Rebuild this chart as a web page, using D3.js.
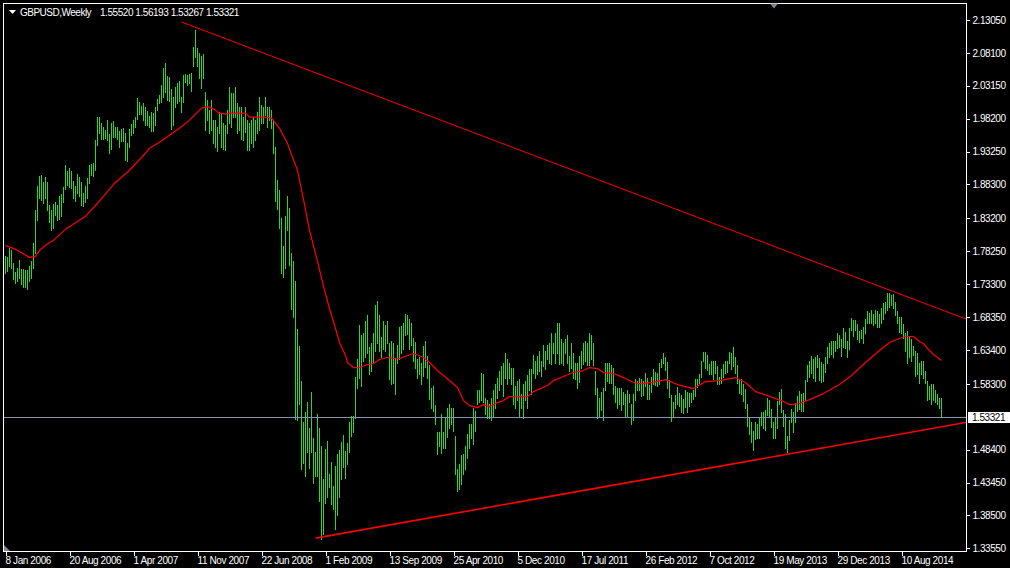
<!DOCTYPE html>
<html><head><meta charset="utf-8">
<script src="https://cdn.jsdelivr.net/npm/d3@7"></script>
<style>
html,body{margin:0;padding:0;background:#000;overflow:hidden;}
svg{display:block;}
text{font-family:"Liberation Sans",Arial,sans-serif;}
</style></head><body>
<svg id="c" width="1010" height="568"></svg>
<script>
// ---------- DATA ----------
const symbolLabel = "GBPUSD,Weekly";
const lastOHLC = ["1.55520", "1.56193", "1.53267", "1.53321"];
const lastPrice = 1.53321;

// weekly highs / lows, week 0 = 8 Jan 2006
const hi2006 = [1.7760,1.7740,1.7880,1.7840,1.7650,1.7520,1.7580,1.7700,1.7560,1.7560,1.7540,1.7550,1.7600,1.7680,1.7950,1.8450,1.8800,1.8950,1.8980,1.8870,1.8940,1.8860,1.8520,1.8450,1.8540,1.8560,1.8520,1.8660,1.8690,1.8790,1.9130,1.9040,1.9080,1.9040,1.8880,1.8800,1.8990,1.8940,1.8860,1.8700,1.8800,1.8920,1.9120,1.9140,1.9160,1.9500,1.9850,1.9840,1.9760,1.9690,1.9650,1.9800];
const lo2006 = [1.7500,1.7530,1.7600,1.7580,1.7400,1.7340,1.7380,1.7420,1.7330,1.7290,1.7290,1.7260,1.7380,1.7420,1.7580,1.7800,1.8300,1.8620,1.8600,1.8550,1.8620,1.8440,1.8260,1.8150,1.8170,1.8370,1.8290,1.8310,1.8360,1.8560,1.8760,1.8820,1.8790,1.8780,1.8620,1.8580,1.8700,1.8660,1.8520,1.8500,1.8560,1.8630,1.8850,1.8980,1.8960,1.9050,1.9420,1.9600,1.9520,1.9520,1.9530,1.9500];
const hi2007 = [1.9590,1.9760,1.9790,1.9700,1.9690,1.9640,1.9660,1.9680,1.9600,1.9460,1.9660,1.9740,1.9800,1.9850,2.0130,2.0070,2.0010,2.0060,1.9990,1.9940,1.9860,1.9920,1.9910,2.0000,2.0120,2.0180,2.0320,2.0580,2.0660,2.0460,2.0440,2.0260,2.0140,2.0290,2.0360,2.0380,2.0140,2.0470,2.0490,2.0480,2.0490,2.0500,2.0900,2.1160,2.0880,2.0810,2.0760,2.0800,2.0220,2.0100,1.9950,2.0100];
const lo2007 = [1.9300,1.9370,1.9550,1.9550,1.9520,1.9400,1.9480,1.9480,1.9200,1.9190,1.9400,1.9570,1.9600,1.9700,1.9810,1.9890,1.9890,1.9800,1.9720,1.9720,1.9700,1.9640,1.9640,1.9720,1.9950,2.0050,2.0070,2.0150,2.0220,2.0100,2.0090,1.9660,1.9730,1.9990,2.0050,2.0080,1.9920,2.0070,2.0370,2.0330,2.0350,2.0240,2.0620,2.0750,2.0620,2.0430,2.0280,2.0430,1.9650,1.9800,1.9600,1.9650];
const hi2008 = [1.9800,1.9800,1.9700,1.9920,1.9900,1.9750,1.9720,1.9950,2.0300,2.0200,2.0200,2.0300,2.0050,2.0000,2.0000,1.9850,2.0000,1.9800,1.9750,1.9800,1.9850,1.9800,1.9920,2.0150,2.0020,1.9990,2.0150,1.9990,1.9990,1.9950,1.9800,1.9400,1.8900,1.8750,1.8320,1.7900,1.8350,1.8650,1.8480,1.7800,1.7680,1.7380,1.6650,1.6400,1.5880,1.5250,1.5400,1.5550,1.5160,1.5710,1.5010,1.4800];
const lo2008 = [1.9450,1.9400,1.9330,1.9600,1.9400,1.9360,1.9350,1.9600,1.9750,1.9700,1.9850,1.9850,1.9600,1.9650,1.9520,1.9500,1.9620,1.9350,1.9350,1.9450,1.9400,1.9500,1.9600,1.9650,1.9760,1.9750,1.9880,1.9700,1.9800,1.9680,1.9300,1.8580,1.8460,1.8180,1.7500,1.7440,1.7570,1.8150,1.7620,1.6960,1.6840,1.5300,1.5280,1.5530,1.4550,1.4640,1.4450,1.4800,1.4570,1.4800,1.4340,1.4450];
const hi2009 = [1.5380,1.5160,1.4900,1.4400,1.4850,1.4970,1.4480,1.4660,1.4300,1.4600,1.4780,1.4840,1.4960,1.5060,1.4820,1.4940,1.5250,1.5350,1.5350,1.5940,1.6200,1.6710,1.6560,1.6600,1.6780,1.6860,1.6380,1.6450,1.6590,1.7010,1.7080,1.6860,1.6530,1.6780,1.6710,1.6780,1.6450,1.6480,1.6440,1.6210,1.6410,1.6690,1.6700,1.6740,1.6880,1.6870,1.6810,1.6740,1.6520,1.6460,1.6210,1.6230];
const lo2009 = [1.4450,1.4070,1.3500,1.3570,1.4040,1.4120,1.4270,1.4020,1.3950,1.3650,1.3850,1.4120,1.4400,1.4580,1.4420,1.4630,1.4800,1.5050,1.5100,1.5320,1.5760,1.5920,1.5800,1.6180,1.6230,1.6290,1.5980,1.6030,1.6150,1.6330,1.6440,1.6330,1.6230,1.6360,1.6330,1.6450,1.5910,1.5830,1.5850,1.5680,1.6140,1.6200,1.6300,1.6360,1.6560,1.6580,1.6350,1.6420,1.6180,1.6070,1.5920,1.5980];
const hi2010 = [1.6150,1.6400,1.6470,1.6250,1.6110,1.5770,1.5800,1.5510,1.5110,1.5110,1.538,1.511,1.531,1.547,1.552,1.547,1.547,1.505,1.455,1.463,1.476,1.478,1.490,1.508,1.523,1.523,1.547,1.542,1.573,1.573,1.600,1.598,1.561,1.558,1.553,1.562,1.573,1.583,1.592,1.603,1.610,1.615,1.630,1.621,1.615,1.607,1.607,1.579,1.588,1.591,1.568,1.583];
const lo2010 = [1.5830,1.5950,1.6080,1.5920,1.5600,1.5460,1.5420,1.5220,1.4780,1.4890,1.479,1.487,1.487,1.503,1.517,1.523,1.512,1.448,1.422,1.425,1.433,1.448,1.455,1.472,1.487,1.502,1.493,1.512,1.553,1.555,1.558,1.555,1.538,1.532,1.531,1.528,1.535,1.547,1.562,1.573,1.583,1.565,1.592,1.583,1.592,1.583,1.553,1.547,1.558,1.534,1.546,1.532];
const hi2011 = [1.588,1.597,1.606,1.606,1.627,1.618,1.625,1.633,1.618,1.641,1.633,1.641,1.644,1.659,1.644,1.660,1.674,1.674,1.651,1.644,1.651,1.656,1.625,1.644,1.629,1.614,1.615,1.625,1.633,1.645,1.648,1.645,1.660,1.656,1.645,1.603,1.576,1.562,1.570,1.577,1.615,1.614,1.615,1.611,1.607,1.580,1.577,1.576,1.576,1.570,1.568,1.573];
const lo2011 = [1.558,1.546,1.573,1.568,1.600,1.592,1.598,1.603,1.595,1.610,1.606,1.621,1.615,1.613,1.629,1.615,1.629,1.613,1.615,1.611,1.629,1.615,1.603,1.607,1.592,1.591,1.576,1.586,1.607,1.613,1.618,1.611,1.611,1.621,1.611,1.568,1.532,1.535,1.543,1.528,1.573,1.588,1.585,1.585,1.568,1.555,1.546,1.553,1.543,1.553,1.535,1.535];
const hi2012 = [1.568,1.553,1.568,1.591,1.588,1.592,1.5900,1.5880,1.5990,1.5920,1.5810,1.5940,1.6060,1.6010,1.5990,1.6140,1.6200,1.6300,1.6240,1.6160,1.5890,1.5660,1.5560,1.5660,1.5780,1.5690,1.5660,1.5600,1.5730,1.5710,1.5690,1.5690,1.5740,1.5910,1.5910,1.5980,1.6170,1.6310,1.6310,1.6260,1.6130,1.6180,1.6170,1.6170,1.6100,1.5930,1.6050,1.6130,1.6170,1.6180,1.6310,1.6300];
const lo2012 = [1.555,1.523,1.528,1.558,1.573,1.573,1.5650,1.5660,1.5800,1.5600,1.5600,1.5700,1.5830,1.5810,1.5800,1.5830,1.6090,1.6140,1.6040,1.5770,1.5630,1.5270,1.5330,1.5460,1.5520,1.5490,1.5400,1.5390,1.5480,1.5410,1.5500,1.5560,1.5600,1.5650,1.5780,1.5840,1.5940,1.6180,1.6070,1.6040,1.5980,1.5980,1.5900,1.6000,1.5820,1.5830,1.5840,1.5930,1.6000,1.6010,1.6150,1.6060];
const hi2013 = [1.6380,1.6230,1.6120,1.5910,1.5900,1.5820,1.5750,1.5520,1.5330,1.5250,1.5120,1.5250,1.5220,1.5320,1.5410,1.5410,1.5440,1.5610,1.5590,1.5450,1.5260,1.5320,1.5570,1.5700,1.5750,1.5430,1.5370,1.5050,1.5290,1.5450,1.5410,1.5540,1.5650,1.5720,1.5680,1.5690,1.5890,1.6120,1.6170,1.6250,1.6200,1.6240,1.6260,1.6220,1.6160,1.6130,1.6240,1.6390,1.6440,1.6480,1.6470,1.6480];
const lo2013 = [1.6100,1.6000,1.5850,1.5690,1.5670,1.5570,1.5460,1.5190,1.5070,1.4950,1.4830,1.5000,1.5010,1.5010,1.5210,1.5160,1.5140,1.5360,1.5330,1.5180,1.5010,1.5020,1.5170,1.5530,1.5410,1.5190,1.4870,1.4810,1.4980,1.5250,1.5100,1.5250,1.5420,1.5450,1.5420,1.5420,1.5590,1.5870,1.5930,1.6000,1.5920,1.5880,1.6090,1.5890,1.5860,1.5870,1.6010,1.6150,1.6240,1.6280,1.6230,1.6320];
const hi2014 = [1.6590,1.6560,1.6500,1.6670,1.6610,1.6480,1.6670,1.6820,1.6790,1.6790,1.6730,1.6620,1.664,1.669,1.681,1.692,1.689,1.694,1.688,1.694,1.692,1.688,1.697,1.704,1.706,1.719,1.719,1.716,1.718,1.706,1.692,1.683,1.684,1.673,1.660,1.663,1.654,1.651,1.640,1.633,1.630,1.614,1.618,1.618,1.603,1.588,1.580,1.583,1.583,1.573,1.568,1.562,1.56193];
const lo2014 = [1.6370,1.6380,1.6250,1.6380,1.6370,1.6240,1.6350,1.6640,1.6550,1.6640,1.6510,1.6460,1.652,1.645,1.659,1.674,1.675,1.674,1.671,1.674,1.669,1.668,1.674,1.681,1.689,1.694,1.698,1.701,1.697,1.686,1.675,1.661,1.660,1.652,1.633,1.615,1.623,1.618,1.627,1.595,1.598,1.585,1.598,1.592,1.585,1.558,1.560,1.553,1.558,1.555,1.553,1.546,1.53267];

// moving average (week index, value)
const maWeek  = [0,5,12,15,17,20,24,30,40,46,54,62,70,72,77,82,87,92,96,98,100,102,105,107,110,112,120,122,130,133,137,141,142,146,149,152,156,159,162,165,167,170,171,174,177,181,184,187,191,194,197,201,204,209,212,217,219,222,226,229,232,236,239,242,246,249,252,261,264,271,274,279,284,289,292,296,299,304,309,314,317,323,330,336,344,350,357,365,370,375,381,388,392,397,402,409,417,423,430,437,442,447,450,454,457,459,461,464,468];
const maValue = [1.7914,1.7854,1.7733,1.7748,1.7839,1.7914,1.7989,1.8155,1.8351,1.8547,1.8833,1.9044,1.9300,1.9376,1.9466,1.9572,1.9677,1.9798,1.9918,1.9979,1.9994,1.9994,1.9949,1.9903,1.9888,1.9903,1.9903,1.9843,1.9843,1.9828,1.9677,1.9451,1.9361,1.9044,1.8607,1.8140,1.7673,1.7296,1.6964,1.6663,1.6452,1.6256,1.6151,1.6075,1.6075,1.6120,1.6135,1.6196,1.6226,1.6211,1.6211,1.6256,1.6286,1.6226,1.6151,1.6000,1.5955,1.5879,1.5774,1.5578,1.5502,1.5472,1.5518,1.5487,1.5548,1.5578,1.5638,1.5638,1.5713,1.5804,1.5879,1.5940,1.6000,1.6030,1.6075,1.6060,1.6000,1.5985,1.5924,1.5849,1.5834,1.5849,1.5894,1.5819,1.5759,1.5864,1.5879,1.5924,1.5849,1.5713,1.5653,1.5578,1.5518,1.5533,1.5593,1.5683,1.5819,1.5955,1.6151,1.6331,1.6452,1.6512,1.6542,1.6542,1.6467,1.6437,1.6361,1.6271,1.6181];

// trendlines: two anchor points each (week index, price), extended to the right
const upperTrendWeek = [88, 443];
const upperTrendPrice = [2.1275, 1.7230];
const lowerTrendWeek = [155, 391];
const lowerTrendPrice = [1.3508, 1.4771];

const yTickValues = [2.13050,2.08100,2.03150,1.98200,1.93250,1.88300,1.83200,1.78250,1.73300,1.68350,1.63400,1.58300,1.48400,1.43450,1.38500,1.33550];
const xTickWeeks = [0,32,64,96,128,160,192,224,256,288,320,352,384,416,448];
const xTickLabels = ["8 Jan 2006","20 Aug 2006","1 Apr 2007","11 Nov 2007","22 Jun 2008","1 Feb 2009","13 Sep 2009","25 Apr 2010","5 Dec 2010","17 Jul 2011","26 Feb 2012","7 Oct 2012","19 May 2013","29 Dec 2013","10 Aug 2014"];

// ---------- CHART ----------
const highs = [].concat(hi2006,hi2007,hi2008,hi2009,hi2010,hi2011,hi2012,hi2013,hi2014);
const lows  = [].concat(lo2006,lo2007,lo2008,lo2009,lo2010,lo2011,lo2012,lo2013,lo2014);
const n = highs.length;

const W = 1010, H = 568;
const P = {left: 3.5, right: 966.5, top: 3.5, bottom: 551.5};
const BAR = "#2fd62a", RED = "#ff0000", WHITE = "#ffffff", PRICE = "#8794a6";

const svg = d3.select("#c");
svg.append("rect").attr("width", W).attr("height", H).attr("fill", "#000");

const x = d3.scaleLinear().domain([0, 468]).range([5.5, 941.5]);
const y = d3.scaleLinear().domain([1.3355, 2.1305]).range([548.3, 20]);

svg.append("clipPath").attr("id", "plot")
  .append("rect").attr("x", P.left).attr("y", P.top)
  .attr("width", P.right - P.left).attr("height", P.bottom - P.top);

const plot = svg.append("g").attr("clip-path", "url(#plot)");

// bars
plot.append("g").selectAll("line").data(d3.range(n)).join("line")
  .attr("x1", i => x(i)).attr("x2", i => x(i))
  .attr("y1", i => Math.round(y(highs[i]))).attr("y2", i => Math.round(y(lows[i])) + 1)
  .attr("stroke", BAR).attr("stroke-width", 1).attr("shape-rendering", "crispEdges");

// current price line
plot.append("line")
  .attr("x1", P.left).attr("x2", P.right)
  .attr("y1", Math.round(y(lastPrice)) + 0.5).attr("y2", Math.round(y(lastPrice)) + 0.5)
  .attr("stroke", PRICE).attr("stroke-width", 1).attr("shape-rendering", "crispEdges");

// moving average
const maPts = maWeek.map((w, k) => [w, maValue[k]]);
plot.append("path").datum(maPts)
  .attr("d", d3.line().x(d => x(d[0])).y(d => y(d[1])))
  .attr("fill", "none").attr("stroke", RED).attr("stroke-width", 1.2)
  .attr("stroke-linejoin", "round");

// trendlines (rays to the right edge)
function ray(weeks, prices, width) {
  const slope = (prices[1] - prices[0]) / (weeks[1] - weeks[0]);
  const wEnd = x.invert(P.right + 2);
  const pEnd = prices[0] + slope * (wEnd - weeks[0]);
  plot.append("line")
    .attr("x1", x(weeks[0])).attr("y1", y(prices[0]))
    .attr("x2", x(wEnd)).attr("y2", y(pEnd))
    .attr("stroke", RED).attr("stroke-width", width);
}
ray(upperTrendWeek, upperTrendPrice, 1);
ray(lowerTrendWeek, lowerTrendPrice, 1.6);

// frame
svg.append("rect").attr("x", P.left).attr("y", P.top)
  .attr("width", P.right - P.left).attr("height", P.bottom - P.top)
  .attr("fill", "none").attr("stroke", WHITE).attr("stroke-width", 1)
  .attr("shape-rendering", "crispEdges");

// y axis
const yAxis = d3.axisRight(y).tickValues(yTickValues).tickFormat(d => d.toFixed(5))
  .tickSizeInner(3).tickSizeOuter(0).tickPadding(3);
const gy = svg.append("g").attr("transform", `translate(${P.right},0)`).call(yAxis);
gy.select(".domain").remove();
gy.selectAll("line").attr("stroke", WHITE).attr("shape-rendering", "crispEdges");
gy.selectAll("text").attr("fill", WHITE).attr("font-size", 10)
  .attr("letter-spacing", -0.45).attr("font-family", "Liberation Sans, Arial, sans-serif");

// price label box
const py = y(lastPrice);
svg.append("rect").attr("x", 968).attr("y", Math.round(py) - 5).attr("width", 42).attr("height", 11)
  .attr("fill", WHITE);
svg.append("text").attr("x", 972).attr("y", Math.round(py) + 3.5)
  .attr("fill", "#000").attr("font-size", 10).attr("letter-spacing", -0.45)
  .text(lastPrice.toFixed(5));

// x axis
const xAxis = d3.axisBottom(x).tickValues(xTickWeeks).tickFormat((d, k) => xTickLabels[k])
  .tickSizeInner(4).tickSizeOuter(0);
const gx = svg.append("g").attr("transform", `translate(0,${P.bottom})`).call(xAxis);
gx.select(".domain").remove();
gx.selectAll("line").attr("stroke", WHITE).attr("shape-rendering", "crispEdges");
gx.selectAll("text").attr("fill", WHITE).attr("font-size", 10).attr("letter-spacing", -0.4)
  .attr("text-anchor", "start").attr("dx", -0.5).attr("dy", null).attr("y", 12.5)
  .attr("font-family", "Liberation Sans, Arial, sans-serif");

// header
svg.append("path").attr("d", "M9,10 L16,10 L12.5,14 Z").attr("fill", WHITE);
svg.append("text").attr("x", 20).attr("y", 15.5).attr("fill", WHITE)
  .attr("font-size", 10).attr("letter-spacing", -0.5).text(symbolLabel);
svg.append("text").attr("x", 100).attr("y", 15.5).attr("fill", WHITE)
  .attr("font-size", 10).attr("letter-spacing", -0.45).text(lastOHLC.join(" "));

// chart shift markers
svg.append("path").attr("d", "M770,3.5 L778,3.5 L774,8.5 Z").attr("fill", "#7d8796");
svg.append("path").attr("d", "M4,545 L4,551 L10,551 Z").attr("fill", "#7d8796");
</script>
</body></html>
